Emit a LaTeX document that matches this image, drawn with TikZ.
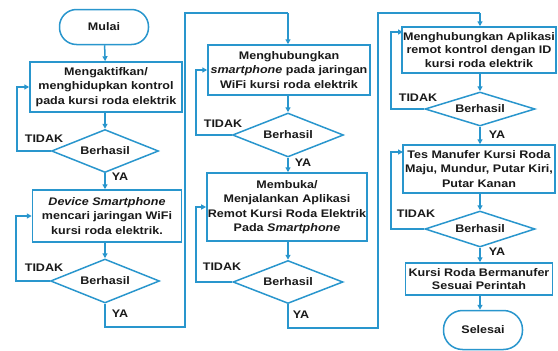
\documentclass[tikz,border=0pt]{standalone}
\usepackage{fontspec}
\setmainfont{Liberation Sans}[FakeStretch=1.14]
\usetikzlibrary{shapes.geometric,arrows.meta}
\definecolor{fl}{RGB}{41,150,205}
\definecolor{tx}{RGB}{25,25,25}
\begin{document}
\begin{tikzpicture}[x=1pt,y=-1pt,
  every node/.style={text=tx,font=\fontsize{11}{14.5}\selectfont\bfseries},
  tight/.style={font=\fontsize{11}{13.2}\selectfont\bfseries},
  procbox/.style={draw=fl,line width=1.5pt,fill=white,rectangle,align=center,inner sep=1pt},
  termbox/.style={draw=fl,line width=1.5pt,fill=white,rectangle,rounded corners=17pt,inner sep=1pt},
  decbox/.style={draw=fl,line width=1.5pt,fill=white,diamond,aspect=2.5,inner sep=0pt},
  lbl/.style={inner sep=0pt},
  flow/.style={draw=fl,line width=1.5pt,-{Triangle[length=5pt,width=5pt]}},
  plain/.style={draw=fl,line width=1.5pt}]
\useasboundingbox (0,0) rectangle (558,351);
% column 1
\node[termbox,minimum width=89pt,minimum height=35pt] (start) at (104,27) {Mulai};
\node[procbox,minimum width=152pt,minimum height=50pt] (b1) at (106,87) {Mengaktifkan/\\menghidupkan kontrol\\pada kursi roda elektrik};
\node[decbox,minimum width=107pt,minimum height=43pt] (d1) at (105,151) {Berhasil};
\node[procbox,minimum width=149pt,minimum height=52pt] (b2) at (107,216) {\textit{Device Smartphone}\\mencari jaringan WiFi\\kursi roda elektrik.};
\node[decbox,minimum width=109pt,minimum height=44pt] (d2) at (105,281) {Berhasil};
\node[lbl] (t1) at (44,139) {TIDAK};
\node[lbl] (y1) at (120,177) {YA};
\node[lbl] (t2) at (44,268) {TIDAK};
\node[lbl] (y2) at (120,314) {YA};
% column 2
\node[procbox,minimum width=162pt,minimum height=50pt] (b3) at (289,70) {Menghubungkan\\\textit{smartphone} pada jaringan\\WiFi kursi roda elektrik};
\node[decbox,minimum width=111pt,minimum height=44pt] (d3) at (288,135) {Berhasil};
\node[procbox,minimum width=160pt,minimum height=68pt] (b4) at (287,207) {Membuka/\\Menjalankan Aplikasi\\Remot Kursi Roda Elektrik\\Pada \textit{Smartphone}};
\node[decbox,minimum width=110pt,minimum height=43pt] (d4) at (288,282) {Berhasil};
\node[lbl] (t3) at (223,124) {TIDAK};
\node[lbl] (y3) at (303,163) {YA};
\node[lbl] (t4) at (222,267) {TIDAK};
\node[lbl] (y4) at (301,315) {YA};
% column 3
\node[procbox,tight,minimum width=152pt,minimum height=46pt] (b5) at (479,50) {Menghubungkan Aplikasi\\remot kontrol dengan ID\\kursi roda elektrik};
\node[decbox,minimum width=110pt,minimum height=34pt] (d5) at (480,109) {Berhasil};
\node[procbox,minimum width=152pt,minimum height=48pt] (b6) at (479,169) {Tes Manufer Kursi Roda\\Maju, Mundur, Putar Kiri,\\Putar Kanan};
\node[decbox,minimum width=110pt,minimum height=36pt] (d6) at (480,229) {Berhasil};
\node[procbox,tight,minimum width=147pt,minimum height=32pt] (b7) at (479,279) {Kursi Roda Bermanufer\\Sesuai Perintah};
\node[termbox,minimum width=79pt,minimum height=39pt,rounded corners=19pt] (end) at (483,330) {Selesai};
\node[lbl] (t5) at (418,98) {TIDAK};
\node[lbl] (y5) at (497,135) {YA};
\node[lbl] (t6) at (416,214) {TIDAK};
\node[lbl] (y6) at (497,252) {YA};
% helper coordinates
\coordinate (r1a) at (105,327);
\coordinate (r1b) at (185,327);
\coordinate (r1c) at (185,13);
\coordinate (r1d) at (288,13);
\coordinate (r2a) at (288,328);
\coordinate (r2b) at (378,328);
\coordinate (r2c) at (378,13);
\coordinate (r2d) at (480,13);
\coordinate (e5) at (403,32);
\coordinate (e6) at (403,152);
% connectors column 1
\draw[flow] (start) -- (b1);
\draw[flow] (b1.south -| d1.north) -- (d1.north);
\draw[flow] (d1.south) -- (d1.south |- b2.north);
\draw[flow] (b2.south -| d2.north) -- (d2.north);
\draw[flow] (d1.west) -- (17,151) -- (17,87) -- (b1.west);
\draw[flow] (d2.west) -- (16,281) -- (16,216) -- (b2.west);
\draw[plain] (d2.south) -- (r1a) -- (r1b) -- (r1c) -- (r1d);
\draw[flow] (r1d) -- (r1d |- b3.north);
% column 2
\draw[flow] (b3.south -| d3.north) -- (d3.north);
\draw[flow] (d3.south) -- (d3.south |- b4.north);
\draw[flow] (b4.south -| d4.north) -- (d4.north);
\draw[flow] (d3.west) -- (196,135) -- (196,70) -- (b3.west);
\draw[flow] (d4.west) -- (196,282) -- (196,207) -- (b4.west);
\draw[plain] (d4.south) -- (r2a) -- (r2b) -- (r2c) -- (r2d);
\draw[flow] (r2d) -- (r2d |- b5.north);
% column 3
\draw[flow] (b5.south -| d5.north) -- (d5.north);
\draw[flow] (d5.south) -- (d5.south |- b6.north);
\draw[flow] (b6.south -| d6.north) -- (d6.north);
\draw[flow] (d6.south) -- (d6.south |- b7.north);
\draw[flow] (b7.south -| d6.south) -- (d6.south |- end.north);
\draw[flow] (d5.west) -- (391,109) -- (391,32) -- (e5);
\draw[flow] (d6.west) -- (391,229) -- (391,152) -- (e6);
\end{tikzpicture}
\end{document}
